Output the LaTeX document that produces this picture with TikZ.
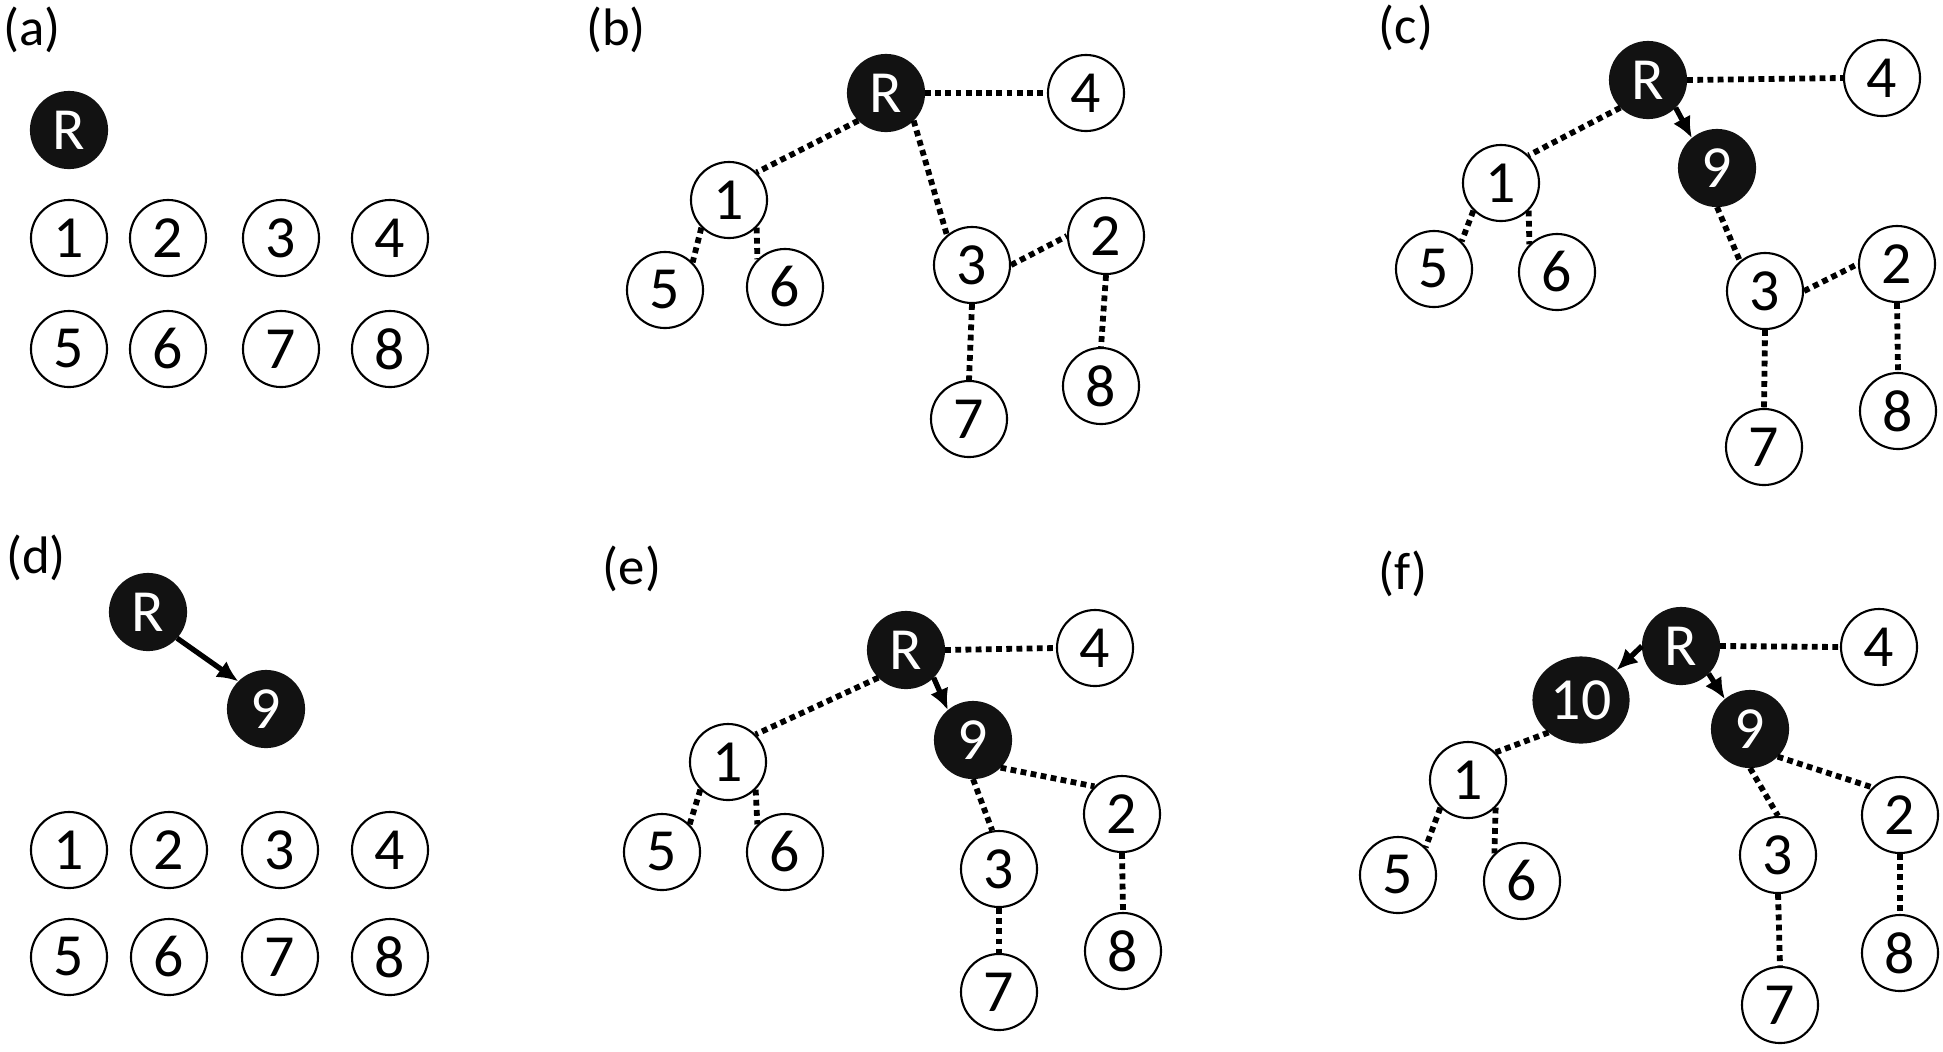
\documentclass[tikz,border=0pt]{standalone}
\usepackage{fontspec}
\setmainfont{Carlito}
\usetikzlibrary{arrows.meta,shapes.geometric}

\begin{document}
\begin{tikzpicture}[x=0.01cm, y=-0.01cm,
    wnode/.style={circle, draw, line width=0.6pt, minimum size=0.76cm, inner sep=0pt, font=\fontsize{17}{20}\selectfont},
    bnode/.style={wnode, fill=black!93, draw=black!93, text=white},
    wide/.style={ellipse, minimum width=0.95cm, minimum height=0.85cm},
    tie/.style={line width=1.65pt, dash pattern=on 1.65pt off 1.25pt},
    joinarr/.style={line width=1.5pt, -{Latex[length=6pt,width=5.5pt]}},
    lbl/.style={font=\fontsize{15}{18}\selectfont, inner sep=0pt}]
    \useasboundingbox (0,0) rectangle (1943,1051);

    \node[lbl] (la) at (32,30) {(a)};
    \node[bnode] (aR) at (69,130) {R};
    \node[wnode] (a1) at (69,238) {1};
    \node[wnode] (a2) at (168,238) {2};
    \node[wnode] (a3) at (281,238) {3};
    \node[wnode] (a4) at (390,238) {4};
    \node[wnode] (a5) at (69,349) {5};
    \node[wnode] (a6) at (168,349) {6};
    \node[wnode] (a7) at (281,349) {7};
    \node[wnode] (a8) at (390,349) {8};

    \node[lbl] (lb) at (616,30) {(b)};
    \node[bnode] (bR) at (886,93) {R};
    \node[wnode] (b4) at (1086,93) {4};
    \node[wnode] (b1) at (729,200) {1};
    \node[wnode] (b5) at (665,290) {5};
    \node[wnode] (b6) at (785,287) {6};
    \node[wnode] (b3) at (972,265) {3};
    \node[wnode] (b2) at (1106,236) {2};
    \node[wnode] (b7) at (969,419) {7};
    \node[wnode] (b8) at (1101,386) {8};

    \draw[tie] (bR.east) -- (b4.west);
    \draw[tie] (bR.-135) -- (b1.45);
    \draw[tie] (bR.-45) -- (b3.130);
    \draw[tie] (b1.-135) -- (b5.45);
    \draw[tie] (b1.-45) -- (b6.135);
    \draw[tie] (b3.east) -- (b2.west);
    \draw[tie] (b3.south) -- (b7.north);
    \draw[tie] (b2.south) -- (b8.north);

    \node[lbl] (lc) at (1406,28) {(c)};
    \node[bnode] (cR) at (1648,80) {R};
    \node[wnode] (c4) at (1882,78) {4};
    \node[bnode] (c9) at (1717,168) {9};
    \node[wnode] (c1) at (1501,183) {1};
    \node[wnode] (c5) at (1434,269) {5};
    \node[wnode] (c6) at (1557,272) {6};
    \node[wnode] (c3) at (1765,291) {3};
    \node[wnode] (c2) at (1897,264) {2};
    \node[wnode] (c7) at (1764,447) {7};
    \node[wnode] (c8) at (1898,411) {8};

    \draw[tie] (cR.east) -- (c4.west);
    \draw[tie] (cR.-135) -- (c1.45);
    \draw[joinarr] (cR.-45) -- (c9.130);
    \draw[tie] (c9.south) -- (c3.130);
    \draw[tie] (c1.-135) -- (c5.45);
    \draw[tie] (c1.-45) -- (c6.135);
    \draw[tie] (c3.east) -- (c2.west);
    \draw[tie] (c3.south) -- (c7.north);
    \draw[tie] (c2.south) -- (c8.north);

    \node[lbl] (ld) at (36,558) {(d)};
    \node[bnode] (dR) at (148,612) {R};
    \node[bnode] (d9) at (266,709) {9};
    \node[wnode] (d1) at (69,850) {1};
    \node[wnode] (d2) at (169,850) {2};
    \node[wnode] (d3) at (280,850) {3};
    \node[wnode] (d4) at (390,850) {4};
    \node[wnode] (d5) at (69,957) {5};
    \node[wnode] (d6) at (169,957) {6};
    \node[wnode] (d7) at (280,957) {7};
    \node[wnode] (d8) at (390,957) {8};

    \draw[joinarr] (dR.-42) -- (d9.135);

    \node[lbl] (le) at (632,569) {(e)};
    \node[bnode] (eR) at (906,650) {R};
    \node[wnode] (e4) at (1095,648) {4};
    \node[bnode] (e9) at (973,740) {9};
    \node[wnode] (e1) at (728,762) {1};
    \node[wnode] (e5) at (662,852) {5};
    \node[wnode] (e6) at (785,852) {6};
    \node[wnode] (e3) at (999,869) {3};
    \node[wnode] (e2) at (1122,814) {2};
    \node[wnode] (e7) at (999,992) {7};
    \node[wnode] (e8) at (1123,951) {8};

    \draw[tie] (eR.east) -- (e4.west);
    \draw[tie] (eR.-135) -- (e1.45);
    \draw[joinarr] (eR.-45) -- (e9.130);
    \draw[tie] (e9.south) -- (e3.100);
    \draw[tie] (e9.-45) -- (e2.135);
    \draw[tie] (e1.-135) -- (e5.45);
    \draw[tie] (e1.-45) -- (e6.135);
    \draw[tie] (e3.south) -- (e7.north);
    \draw[tie] (e2.south) -- (e8.north);

    \node[lbl] (lf) at (1403,574) {(f)};
    \node[bnode] (fR) at (1681,646) {R};
    \node[wnode] (f4) at (1879,647) {4};
    \node[bnode, wide] (f10) at (1581,700) {10};
    \node[bnode] (f9) at (1750,729) {9};
    \node[wnode] (f1) at (1468,780) {1};
    \node[wnode] (f5) at (1398,875) {5};
    \node[wnode] (f6) at (1522,881) {6};
    \node[wnode] (f3) at (1778,855) {3};
    \node[wnode] (f2) at (1900,815) {2};
    \node[wnode] (f7) at (1780,1005) {7};
    \node[wnode] (f8) at (1900,953) {8};

    \draw[tie] (fR.east) -- (f4.west);
    \draw[joinarr] (fR.west) -- (f10.40);
    \draw[joinarr] (fR.-45) -- (f9.130);
    \draw[tie] (f10.-135) -- (f1.45);
    \draw[tie] (f9.south) -- (f3.north);
    \draw[tie] (f9.-45) -- (f2.135);
    \draw[tie] (f1.-135) -- (f5.45);
    \draw[tie] (f1.-45) -- (f6.135);
    \draw[tie] (f3.south) -- (f7.north);
    \draw[tie] (f2.south) -- (f8.north);
\end{tikzpicture}
\end{document}
